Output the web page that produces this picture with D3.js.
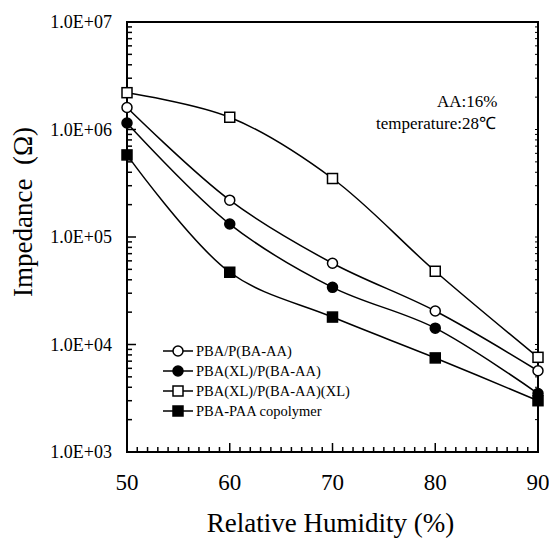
<!DOCTYPE html>
<html>
<head>
<meta charset="utf-8">
<script src="https://cdn.jsdelivr.net/npm/d3@7"></script>
<style>
  body { margin: 0; background: #fff; }
  svg { font-family: "Liberation Serif", "Times New Roman", serif; }
</style>
</head>
<body>
<svg id="chart" width="549" height="545"></svg>
<script>
// humidity (%) on x, impedance (ohm) on y
const humidity = [50, 60, 70, 80, 90];
const pbaPbaa = [1.6e6, 2.2e5, 5.7e4, 2.05e4, 5.7e3];
const pbaXlPbaa = [1.15e6, 1.32e5, 3.4e4, 1.42e4, 3.5e3];
const pbaXlPbaaXl = [2.2e6, 1.3e6, 3.5e5, 4.8e4, 7.6e3];
const copolymer = [5.8e5, 4.7e4, 1.8e4, 7.5e3, 3.0e3];

const seriesNames = ["PBA/P(BA-AA)", "PBA(XL)/P(BA-AA)", "PBA(XL)/P(BA-AA)(XL)", "PBA-PAA copolymer"];
const seriesValues = [pbaPbaa, pbaXlPbaa, pbaXlPbaaXl, copolymer];
const seriesMarker = ["circle", "circle", "square", "square"];
const seriesFilled = [false, true, false, true];

const yTickValues = [1e3, 1e4, 1e5, 1e6, 1e7];
const xTickValues = [50, 60, 70, 80, 90];

const margin = { top: 22, right: 11, bottom: 93, left: 127 },
  width = 549 - margin.left - margin.right,
  height = 545 - margin.top - margin.bottom;

const svg = d3.select("#chart")
  .append("g")
  .attr("transform", "translate(" + margin.left + "," + margin.top + ")");

const x = d3.scaleLinear().domain([50, 90]).range([0, width]);
const y = d3.scaleLog().domain([1e3, 1e7]).range([height, 0]);

// minor ticks
let yMinor = [];
for (let d = 1e3; d < 1e7; d *= 10) {
  for (let k = 2; k <= 9; k++) yMinor.push(d * k);
}
let xMinor = d3.range(51, 90).filter(v => v % 10 !== 0);

svg.selectAll(".yminor").data(yMinor).enter().append("line")
  .attr("x1", 0).attr("x2", 5)
  .attr("y1", d => y(d)).attr("y2", d => y(d))
  .attr("stroke", "#000").attr("stroke-width", 1.5);

svg.selectAll(".ymajor").data(yTickValues).enter().append("line")
  .attr("x1", 0).attr("x2", 9)
  .attr("y1", d => y(d)).attr("y2", d => y(d))
  .attr("stroke", "#000").attr("stroke-width", 1.5);

svg.selectAll(".yright").data(yMinor.concat(yTickValues)).enter().append("line")
  .attr("x1", width).attr("x2", width - 3)
  .attr("y1", d => y(d)).attr("y2", d => y(d))
  .attr("stroke", "#000").attr("stroke-width", 1);

svg.selectAll(".xminor").data(xMinor).enter().append("line")
  .attr("x1", d => x(d)).attr("x2", d => x(d))
  .attr("y1", height).attr("y2", height - 5)
  .attr("stroke", "#000").attr("stroke-width", 1.5);

svg.selectAll(".xmajor").data(xTickValues).enter().append("line")
  .attr("x1", d => x(d)).attr("x2", d => x(d))
  .attr("y1", height).attr("y2", height - 9)
  .attr("stroke", "#000").attr("stroke-width", 1.5);

// frame
svg.append("rect")
  .attr("x", 0).attr("y", 0)
  .attr("width", width).attr("height", height)
  .attr("fill", "none").attr("stroke", "#000").attr("stroke-width", 2);

// tick labels
svg.selectAll(".ylab").data(yTickValues).enter().append("text")
  .attr("x", -15).attr("y", d => y(d) + 6)
  .attr("text-anchor", "end")
  .style("font-size", "18px")
  .text(d => "1.0E+0" + Math.round(Math.log10(d)));

svg.selectAll(".xlab").data(xTickValues).enter().append("text")
  .attr("x", d => x(d)).attr("y", height + 38)
  .attr("text-anchor", "middle")
  .style("font-size", "23px")
  .text(d => d);

// axis titles
svg.append("text")
  .attr("x", width / 2 - 2).attr("y", height + 80)
  .attr("text-anchor", "middle")
  .style("font-size", "27px")
  .text("Relative Humidity (%)");

svg.append("text")
  .attr("transform", "translate(-95," + (212 - margin.top) + ")rotate(-90)")
  .attr("text-anchor", "middle")
  .style("font-size", "27px")
  .attr("xml:space", "preserve")
  .text("Impedance  (\u03A9)");

// curves
const line = d3.line()
  .x((d, i) => x(humidity[i]))
  .y(d => y(d))
  .curve(d3.curveCatmullRom.alpha(0.5));

function drawMarker(g, type, filled, cx, cy) {
  if (type === "circle") {
    g.append("circle")
      .attr("cx", cx).attr("cy", cy).attr("r", 5)
      .attr("fill", filled ? "#000" : "#fff")
      .attr("stroke", "#000").attr("stroke-width", 1.5);
  } else {
    g.append("rect")
      .attr("x", cx - 5).attr("y", cy - 5)
      .attr("width", 10).attr("height", 10)
      .attr("fill", filled ? "#000" : "#fff")
      .attr("stroke", "#000").attr("stroke-width", 1.5);
  }
}

seriesValues.forEach((vals, s) => {
  svg.append("path")
    .datum(vals)
    .attr("d", line)
    .attr("fill", "none")
    .attr("stroke", "#000")
    .attr("stroke-width", 1.5);
});

seriesValues.forEach((vals, s) => {
  const g = svg.append("g");
  vals.forEach((v, i) => drawMarker(g, seriesMarker[s], seriesFilled[s], x(humidity[i]), y(v)));
});

// legend
const legend = svg.append("g").attr("transform", "translate(36," + (351 - margin.top) + ")");
seriesNames.forEach((name, s) => {
  const row = legend.append("g").attr("transform", "translate(0," + (s * 20) + ")");
  row.append("line")
    .attr("x1", 0).attr("x2", 30)
    .attr("y1", 0).attr("y2", 0)
    .attr("stroke", "#000").attr("stroke-width", 1.5);
  drawMarker(row, seriesMarker[s], seriesFilled[s], 15, 0);
  row.append("text")
    .attr("x", 33).attr("y", 5)
    .style("font-size", "14.5px")
    .text(name);
});

// annotation
svg.append("text")
  .attr("x", 437 - margin.left).attr("y", 107 - margin.top)
  .style("font-size", "17px")
  .text("AA:16%");
svg.append("text")
  .attr("x", 376 - margin.left).attr("y", 129 - margin.top)
  .style("font-size", "17px")
  .text("temperature:28\u2103");
</script>
</body>
</html>
